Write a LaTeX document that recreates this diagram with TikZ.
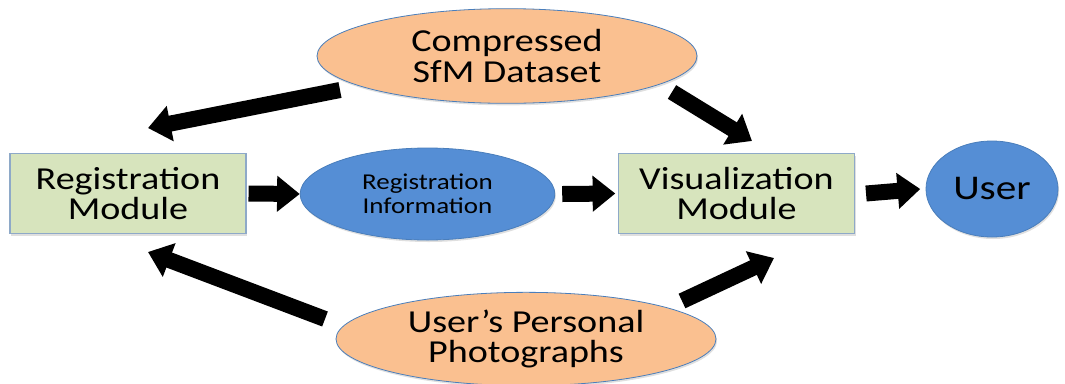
\documentclass[tikz,border=0pt]{standalone}
\usepackage{fontspec}
\setmainfont{Carlito}[FakeStretch=1.19]
\usetikzlibrary{shapes.geometric,arrows.meta,shadows}
\definecolor{boxgreen}{HTML}{D7E4BD}
\definecolor{boxedge}{HTML}{8EA9C8}
\definecolor{ovalblue}{HTML}{558ED5}
\definecolor{ovalorange}{HTML}{FAC090}
\definecolor{ovaledge}{HTML}{4A7EBB}
\tikzset{
  softshadow/.style={drop shadow={opacity=0.25,shadow xshift=0.8pt,shadow yshift=-1.5pt}},
  module/.style={rectangle,draw=boxedge,line width=0.8pt,fill=boxgreen,softshadow,
    minimum width=177pt,minimum height=60pt,align=center,inner sep=0pt,
    font=\fontsize{24}{23}\selectfont},
  oval/.style={ellipse,draw=ovaledge,line width=0.6pt,softshadow,align=center,inner sep=0pt},
  blockarrow/.style={line width=12pt,black,-{Triangle[width=26pt,length=17pt]}}
}
\begin{document}
\begin{tikzpicture}[x=0.75pt,y=-0.75pt]
\useasboundingbox (0,0) rectangle (1065,383);
% nodes
\node[module] (reg) at (128,193.5) {Registration\\Module};
\node[module] (vis) at (736.5,193.5) {Visualization\\Module};
\node[oval,fill=ovalblue,minimum width=191pt,minimum height=69pt,
  font=\fontsize{17}{18}\selectfont] (info) at (427.5,194) {Registration\\Information};
\node[oval,fill=ovalblue,minimum width=99pt,minimum height=72pt,
  font=\fontsize{26}{28}\selectfont] (user) at (992,189) {User};
\node[oval,fill=ovalorange,minimum width=285pt,minimum height=71pt,
  font=\fontsize{24}{23}\selectfont] (sfm) at (507,56) {Compressed\\SfM Dataset};
\node[oval,fill=ovalorange,minimum width=285pt,minimum height=70pt,
  font=\fontsize{24}{23}\selectfont] (photo) at (526,339) {User’s Personal\\Photographs};
% free ends of the diagonal arrows
\coordinate (s1) at (340,90);  \coordinate (t1) at (148,128);
\coordinate (s2) at (672,92);  \coordinate (t2) at (752,141);
\coordinate (s3) at (325,319); \coordinate (t3) at (148,252);
\coordinate (s4) at (682,301); \coordinate (t4) at (774,258);
% arrows
\draw[blockarrow] (reg.east) ++(2,0) -- (info.west);
\draw[blockarrow] (info.east) ++(7,0) -- ([xshift=-2]vis.west);
\draw[blockarrow] (vis.east) ++(11,0) -- ([xshift=-4]user.west);
\draw[blockarrow] (s1) -- (t1);
\draw[blockarrow] (s2) -- (t2);
\draw[blockarrow] (s3) -- (t3);
\draw[blockarrow] (s4) -- (t4);
\end{tikzpicture}
\end{document}
